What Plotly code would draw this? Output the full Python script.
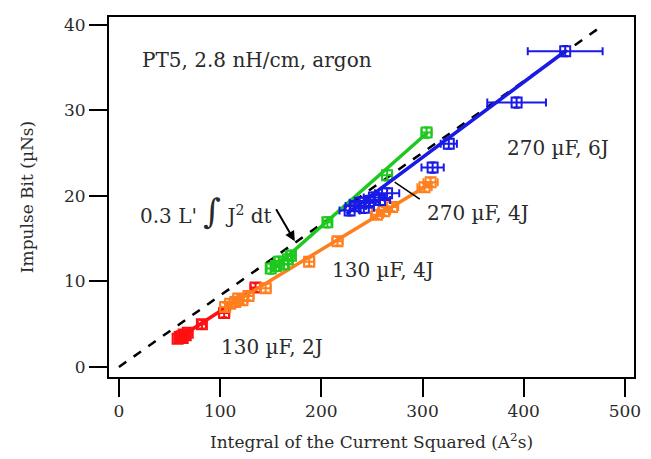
import plotly.graph_objects as go

# ---- data ----
red_x = [58, 60, 62, 63, 64, 66, 68, 82, 104, 135]
red_y = [3.3, 3.5, 3.6, 3.4, 3.8, 3.7, 4.0, 5.0, 6.3, 9.3]
red_ex = [3, 3, 3, 3, 3, 3, 3, 4, 5, 5]
red_ey = [0.4, 0.4, 0.4, 0.4, 0.4, 0.4, 0.4, 0.5, 0.5, 0.5]
red_fit_x = [58, 135]
red_fit_y = [3.3, 9.2]

orange_x = [105, 110, 115, 118, 122, 128, 145, 188, 216, 255, 262, 270, 302, 308]
orange_y = [7.0, 7.4, 7.6, 8.0, 7.8, 8.3, 9.2, 12.3, 14.7, 17.8, 18.2, 18.7, 21.0, 21.6]
orange_ex = [5, 5, 5, 5, 5, 5, 5, 5, 5, 6, 6, 6, 7, 7]
orange_ey = [0.5] * 14
orange_fit_x = [105, 310]
orange_fit_y = [6.9, 21.6]

green_x = [150, 155, 158, 163, 167, 170, 206, 265, 304]
green_y = [11.5, 11.8, 12.3, 12.0, 12.6, 13.0, 16.9, 22.4, 27.4]
green_ex = [4, 4, 4, 4, 4, 4, 4, 5, 5]
green_ey = [0.6] * 9
green_fit_x = [150, 305]
green_fit_y = [11.2, 27.4]

blue_x = [228, 234, 238, 242, 247, 252, 258, 265, 310, 326, 393, 441]
blue_y = [18.3, 18.8, 19.2, 18.6, 19.4, 19.8, 19.5, 20.3, 23.3, 26.1, 30.9, 36.9]
blue_ex = [10, 10, 10, 10, 10, 10, 10, 12, 11, 8, 29, 37]
blue_ey = [0.6] * 12
blue_fit_x = [225, 441]
blue_fit_y = [17.9, 36.9]

theory_x = [0, 478]
theory_y = [0, 39.9]

x_ticks = [0, 100, 200, 300, 400, 500]
y_ticks = [0, 10, 20, 30, 40]

FONT = "DejaVu Serif"
TXT = "#2a2a2a"

fig = go.Figure()

fig.add_trace(go.Scatter(x=theory_x, y=theory_y, mode="lines",
                         line=dict(color="black", width=2.5, dash="dash"),
                         showlegend=False, hoverinfo="skip"))

series = [
    ("red", red_x, red_y, red_ex, red_ey, red_fit_x, red_fit_y, "#ff1010"),
    ("orange", orange_x, orange_y, orange_ex, orange_ey, orange_fit_x, orange_fit_y, "#ff7f1e"),
    ("green", green_x, green_y, green_ex, green_ey, green_fit_x, green_fit_y, "#1ec81e"),
    ("blue", blue_x, blue_y, blue_ex, blue_ey, blue_fit_x, blue_fit_y, "#1a1ae6"),
]
for name, xs, ys, exs, eys, fx, fy, col in series:
    fig.add_trace(go.Scatter(x=fx, y=fy, mode="lines",
                             line=dict(color=col, width=3.5),
                             showlegend=False, hoverinfo="skip"))
    fig.add_trace(go.Scatter(x=xs, y=ys, mode="markers", name=name,
                             marker=dict(symbol="square-open", size=10, color=col,
                                         line=dict(width=2, color=col)),
                             error_x=dict(type="data", array=exs, color=col, thickness=2, width=4),
                             error_y=dict(type="data", array=eys, color=col, thickness=2, width=3),
                             showlegend=False))

ann_font = dict(family=FONT, size=20, color=TXT)
annotations = [
    dict(x=20.5, y=35.9, text="PT5, 2.8 nH/cm, argon", xanchor="left"),
    dict(x=382, y=25.6, text="270 µF, 6J", xanchor="left"),
    dict(x=302, y=18.0, text="270 µF, 4J", xanchor="left"),
    dict(x=209, y=11.3, text="130 µF, 4J", xanchor="left"),
    dict(x=98.6, y=2.3, text="130 µF, 2J", xanchor="left"),
    dict(x=18.5, y=18.2, text="0.3 L' <span style='font-size:34px'>∫</span> J<sup>2</sup> dt", xanchor="left"),
]
for a in annotations:
    fig.add_annotation(x=a["x"], y=a["y"], text=a["text"], xanchor=a["xanchor"],
                       yanchor="middle", showarrow=False, font=ann_font)

# arrow to theory line
fig.add_annotation(x=173.8, y=14.7, ax=154.5, ay=18.6, xref="x", yref="y",
                   axref="x", ayref="y", text="", showarrow=True,
                   arrowhead=2, arrowsize=1, arrowwidth=2, arrowcolor="black")
# pointer line from 270 uF, 4J label
fig.add_annotation(x=272.5, y=21.6, ax=298.8, ay=19.5, xref="x", yref="y",
                   axref="x", ayref="y", text="", showarrow=True,
                   arrowhead=0, arrowwidth=1.5, arrowcolor="black")

axis_common = dict(showgrid=False, zeroline=False, showline=True, linecolor="black",
                   linewidth=2, mirror=True, ticks="outside", ticklen=18, tickwidth=2,
                   tickcolor="black", tickfont=dict(family=FONT, size=17, color=TXT))

fig.update_xaxes(range=[-9.8, 509], tickvals=x_ticks, ticktext=[str(v) for v in x_ticks],
                 title=dict(text="Integral of the Current Squared (A<sup>2</sup>s)",
                            font=dict(family=FONT, size=17, color=TXT), standoff=16),
                 **axis_common)
fig.update_yaxes(range=[-1.17, 40.9], tickvals=y_ticks, ticktext=[str(v) for v in y_ticks],
                 title=dict(text="Impulse Bit (µNs)",
                            font=dict(family=FONT, size=17, color=TXT), standoff=26),
                 **axis_common)

fig.update_layout(width=651, height=459, margin=dict(l=109, r=10, t=17, b=82),
                  plot_bgcolor="white", paper_bgcolor="white")

fig.write_html("out.html")
